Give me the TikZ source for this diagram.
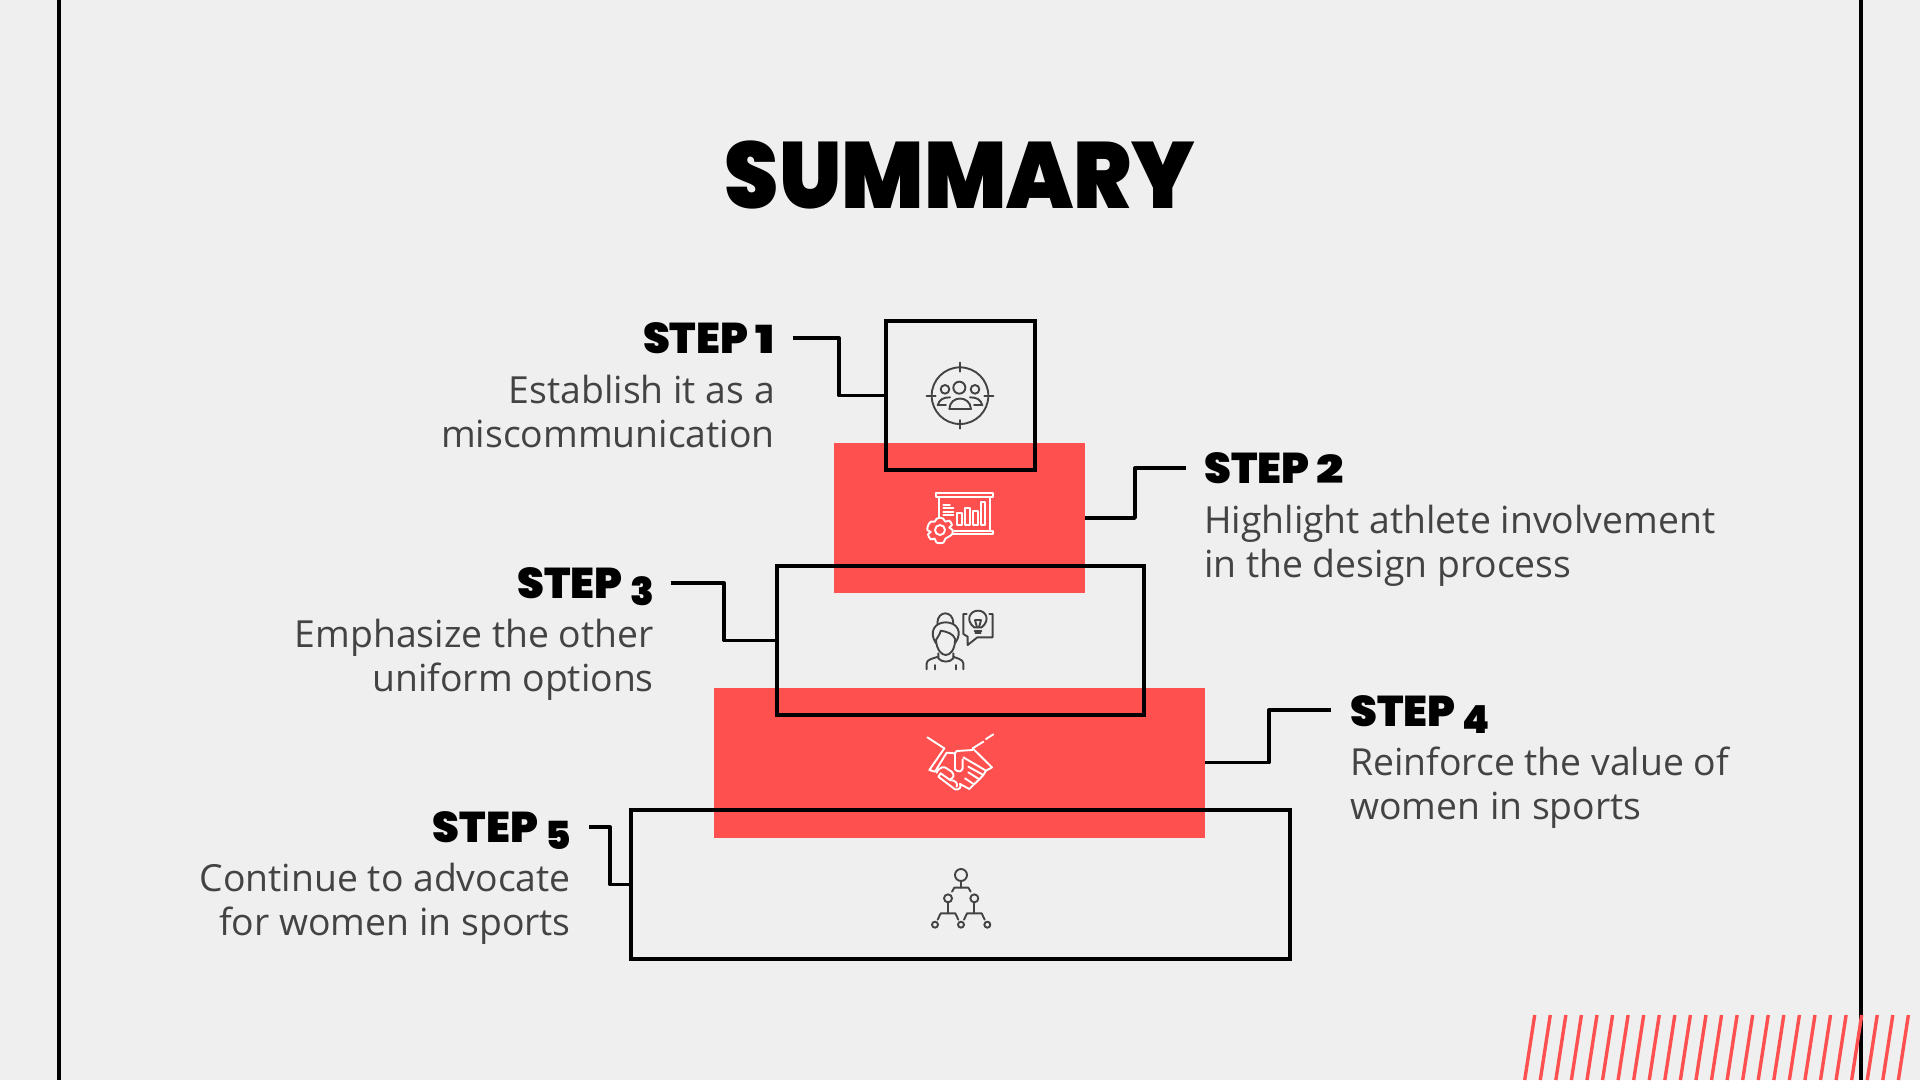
\documentclass[tikz,border=0pt]{standalone}
\usepackage{fontspec}
\setmainfont{Open Sans}
\newfontfamily\headfont{Poppins Black}
\definecolor{bgc}{HTML}{EFEFEF}
\definecolor{redc}{HTML}{FF5050}
\definecolor{txtc}{HTML}{434343}
\newcommand{\oldlow}[1]{\raisebox{-7pt}{\scalebox{.9}{#1}}}
\newcommand{\oldx}[1]{\scalebox{1.12}[.9]{#1}}
\tikzset{
  x=1pt,y=-1pt,
  band/.style={fill=redc,draw=none,minimum width=#1,minimum height=150pt,inner sep=0pt,outer sep=0pt},
  framebox/.style={draw=black,line width=4pt,minimum width=#1,minimum height=149pt,inner sep=0pt,outer sep=0pt},
  link/.style={draw=black,line width=3.4pt,line join=round},
  steplabel/.style={font=\headfont\fontsize{43}{43}\selectfont,text=black,inner sep=0pt},
  desc/.style={font=\fontsize{37.33}{44}\selectfont,text=txtc,inner sep=0pt},
  darkicon/.style={draw=txtc,line width=1.9pt,line cap=round,line join=round,fill=none},
  lighticon/.style={draw=white,line width=1.9pt,line cap=round,line join=round,fill=none},
  stripe/.style={draw=redc,line width=3.4pt},
}
\begin{document}
\begin{tikzpicture}
\fill[bgc] (0,0) rectangle (1920,1080);
\useasboundingbox (0,0) rectangle (1920,1080);
\draw[black,line width=3.6pt] (59,0) -- (59,1080);
\draw[black,line width=3.6pt] (1861,0) -- (1861,1080);
\foreach \i in {0,...,24}{
  \draw[stripe] ({1534.7+15.57*\i},1015) -- ({1524.7+15.57*\i},1080);
}
\node[font=\headfont\fontsize{94}{94}\selectfont,text=black,inner sep=0pt,anchor=base,xscale=0.923] (title) at (960,208) {SUMMARY};

\node[band=251pt] (r2) at (959.5,518) {};
\node[band=491pt] (r4) at (959.5,762.5) {};
\node[framebox=149pt] (b1) at (960,395.5) {};
\node[framebox=367pt] (b3) at (960,640.5) {};
\node[framebox=659pt] (b5) at (960,884.5) {};

\node[steplabel,anchor=base east] (s1) at (775,353) {STEP \oldx{1}};
\node[desc,anchor=base east] (d1a) at (775,403) {Establish it as a};
\node[desc,anchor=base east] (d1b) at (775,447) {miscommunication};
\node[steplabel,anchor=base west] (s2) at (1204,483) {STEP \oldx{2}};
\node[desc,anchor=base west] (d2a) at (1204,533) {Highlight athlete involvement};
\node[desc,anchor=base west] (d2b) at (1204,577) {in the design process};
\node[steplabel,anchor=base east] (s3) at (654,598) {STEP \oldlow{3}};
\node[desc,anchor=base east] (d3a) at (654,647) {Emphasize the other};
\node[desc,anchor=base east] (d3b) at (654,691) {uniform options};
\node[steplabel,anchor=base west] (s4) at (1350,726) {STEP \oldlow{4}};
\node[desc,anchor=base west] (d4a) at (1350,775) {Reinforce the value of};
\node[desc,anchor=base west] (d4b) at (1350,819) {women in sports};
\node[steplabel,anchor=base east] (s5) at (571,842) {STEP \oldlow{5}};
\node[desc,anchor=base east] (d5a) at (571,891) {Continue to advocate};
\node[desc,anchor=base east] (d5b) at (571,935) {for women in sports};

\coordinate (c1) at (793,338);
\coordinate (c2) at (1186,468);
\coordinate (c3) at (671,583);
\coordinate (c4) at (1331,710);
\coordinate (c5) at (589,827);
\draw[link] (c1) -- ++(46,0) |- (b1.west);
\draw[link] (c2) -- ++(-51,0) |- (r2.east);
\draw[link] (c3) -- ++(53,0) |- (b3.west);
\draw[link] (c4) -- ++(-62,0) |- (r4.east);
\draw[link] (c5) -- ++(21,0) |- (b5.west);

% icon 1
\begin{scope}[shift={(900,340)},scale=1/3,darkicon]
\draw (180,167) circle (85);
\draw (180,68) -- (180,95) (180,240) -- (180,266) (80,167) -- (107,167) (253,167) -- (280,167);
\draw (178,143) circle (18);
\draw (135,148) circle (13);
\draw (225,148) circle (13);
\draw (148,207) .. controls (150,165) and (210,165) .. (213,207) -- cycle;
\draw (113,196) .. controls (118,178) and (130,172) .. (150,172);
\draw (113,196) -- (138,196);
\draw (247,196) .. controls (242,178) and (230,172) .. (210,172);
\draw (247,196) -- (222,196);
\end{scope}
% icon 2
\begin{scope}[shift={(900,470)},scale=1/3,lighticon]
\draw (108,68) rectangle (280,82);
\draw (118,82) -- (118,142);
\draw (270,82) -- (270,182);
\draw (163,182) -- (280,182) -- (280,192) -- (160,192);
\draw (130,104) -- (150,104) (130,115) -- (160,115) (130,125) -- (160,125) (130,136) -- (160,136);
\draw (172,165) rectangle (186,130);
\draw (195,165) rectangle (209,113);
\draw (219,165) rectangle (233,122);
\draw (243,165) rectangle (256,95);
\draw (120,180) circle (15);
\draw plot[smooth cycle] coordinates {(120,143) (130,146) (136,155) (148,152) (156,165) (148,173) (158,180) (156,193) (146,200) (136,206) (130,218) (110,218) (104,206) (92,208) (84,193) (92,186) (82,180) (84,167) (92,155) (104,155) (110,146)};
\end{scope}
% icon 3
\begin{scope}[shift={(900,590)},scale=1/3,darkicon]
\draw (112,100) .. controls (112,60) and (160,60) .. (160,100);
\draw (108,160) .. controls (85,125) and (105,97) .. (137,97) .. controls (170,97) and (190,125) .. (165,160);
\draw (108,150) .. controls (110,180) and (125,195) .. (137,195) .. controls (150,195) and (165,180) .. (165,150);
\draw (108,150) .. controls (112,140) and (120,135) .. (122,122) .. controls (140,125) and (160,130) .. (166,148);
\draw (115,190) -- (115,205) .. controls (125,218) and (150,218) .. (160,205) -- (160,190);
\draw (80,238) -- (80,220) .. controls (80,208) and (100,205) .. (115,200);
\draw (190,238) -- (190,220) .. controls (190,208) and (170,205) .. (160,200);
\draw (105,225) -- (105,238) (167,225) -- (167,238);
\draw (200,72) -- (190,72) -- (190,132) -- (203,140) -- (203,165) -- (232,142) -- (278,142) -- (278,72) -- (268,72);
\draw (222,112) .. controls (195,90) and (210,62) .. (234,62) .. controls (258,62) and (272,90) .. (245,112) -- cycle;
\draw (224,122) -- (244,122) (226,130) -- (242,130);
\draw (225,90) -- (231,112) (243,90) -- (237,112) (225,90) -- (243,90);
\end{scope}
% icon 4
\begin{scope}[shift={(900,720)},scale=1/3,lighticon]
\draw (82,52) -- (133,85);
\draw (218,85) -- (250,65) (258,57) -- (280,43);
\draw (133,85) -- (88,150) -- (105,155) -- (140,98) -- (165,100);
\draw (218,85) -- (276,142) -- (258,152) -- (190,112);
\draw (165,148) -- (165,100) -- (170,93) -- (218,90);
\draw (165,148) .. controls (175,158) and (185,155) .. (188,145) -- (188,118);
\draw (258,152) -- (250,165) -- (205,140);
\draw (250,165) -- (238,178) -- (205,157);
\draw (238,178) -- (222,193) -- (195,175);
\draw (222,193) -- (208,207) -- (180,192);
\draw (110,158) .. controls (118,138) and (135,140) .. (140,145) -- (155,155) .. controls (165,165) and (160,175) .. (150,178);
\draw (122,160) -- (150,180) .. controls (165,180) and (175,190) .. (170,200);
\draw (122,160) -- (115,170) -- (165,208) .. controls (178,212) and (185,200) .. (180,192);
\end{scope}
% icon 5
\begin{scope}[shift={(900,855)},scale=1/3,darkicon]
\draw (183,60) circle (18);
\draw (183,78) -- (183,98);
\draw (156,110) -- (163,98) -- (205,98) -- (212,110);
\draw (144,130) circle (12);
\draw (223,130) circle (12);
\draw (144,142) -- (144,175) (223,142) -- (223,175);
\draw (113,194) -- (122,175) -- (166,175) -- (175,194);
\draw (192,194) -- (201,175) -- (245,175) -- (254,194);
\draw (105,209) circle (9);
\draw (183,209) circle (9);
\draw (262,209) circle (9);
\end{scope}
\end{tikzpicture}
\end{document}
